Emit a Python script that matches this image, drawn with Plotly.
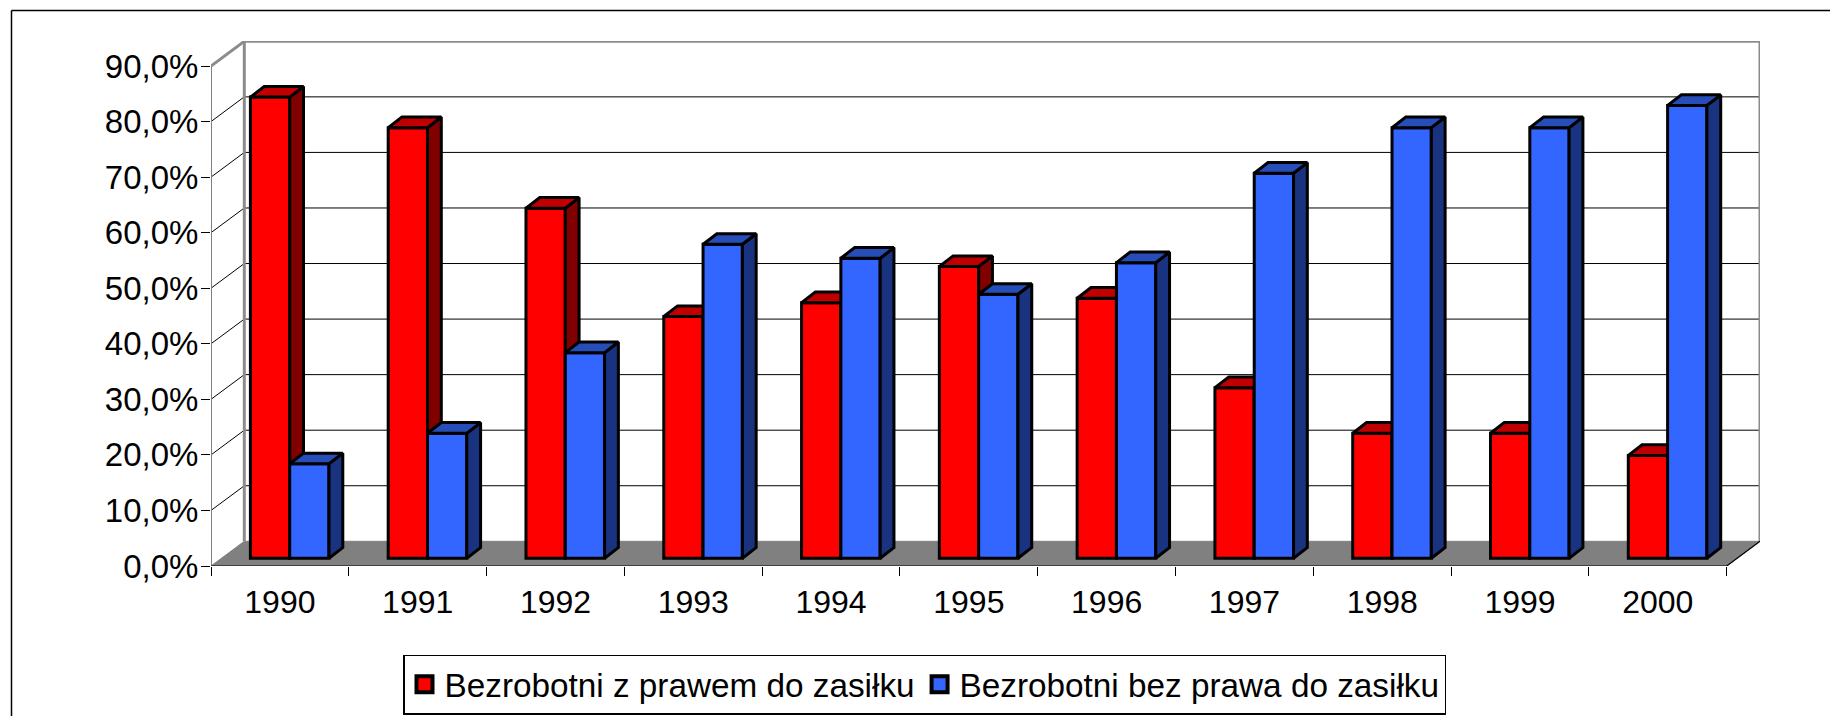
import plotly.graph_objects as go

years = ["1990", "1991", "1992", "1993", "1994", "1995", "1996", "1997", "1998", "1999", "2000"]
with_benefit = [83.0, 77.5, 63.0, 43.5, 46.0, 52.5, 46.8, 30.7, 22.5, 22.5, 18.5]
without_benefit = [17.0, 22.5, 37.0, 56.5, 54.0, 47.5, 53.2, 69.3, 77.5, 77.5, 81.5]
y_ticks = [0, 10, 20, 30, 40, 50, 60, 70, 80, 90]
y_labels = ["0,0%", "10,0%", "20,0%", "30,0%", "40,0%", "50,0%", "60,0%", "70,0%", "80,0%", "90,0%"]
name_with = "Bezrobotni z prawem do zasiłku"
name_without = "Bezrobotni bez prawa do zasiłku"

W, H = 1830, 716
LEFT, RIGHT, TOP, BOTTOM = 211.0, 1760.0, 41.0, 566.0
FRONT_RIGHT = 1726.7
PX_CAT = (FRONT_RIGHT - LEFT) / len(years)
PX_PCT = 500.0 / 90
# depth projection of the box and the bars, expressed in data units
DEPTH_X, DEPTH_Y = 33.3 / PX_CAT, 24.7 / PX_PCT
BAR_X, BAR_BASE = 9.8 / PX_CAT, 7.8 / PX_PCT
SIDE_X, SIDE_Y = 13.8 / PX_CAT, 10.6 / PX_PCT
BAR_W = 39.3 / PX_CAT
x_max = (RIGHT - LEFT) / PX_CAT
y_max = (BOTTOM - TOP) / PX_PCT
n = len(years)
PLOT_W, PLOT_H = RIGHT - LEFT, BOTTOM - TOP

def polys(shapes):
    xs, ys = [], []
    for s in shapes:
        xs += [p[0] for p in s] + [s[0][0], None]
        ys += [p[1] for p in s] + [s[0][1], None]
    return xs, ys

def segs(pairs):
    xs, ys = [], []
    for a, b in pairs:
        xs += [a[0], b[0], None]
        ys += [a[1], b[1], None]
    return xs, ys

fig = go.Figure()

def line_trace(pairs, color, width):
    xs, ys = segs(pairs)
    fig.add_trace(go.Scatter(x=xs, y=ys, mode="lines", line=dict(color=color, width=width),
                             cliponaxis=False, showlegend=False, hoverinfo="skip"))

# floor
fx, fy = polys([[(0, 0), (n, 0), (n + DEPTH_X, DEPTH_Y), (DEPTH_X, DEPTH_Y)]])
fig.add_trace(go.Scatter(x=fx, y=fy, mode="lines", fill="toself", fillcolor="#808080",
                         line=dict(color="#808080", width=1), cliponaxis=False,
                         showlegend=False, hoverinfo="skip"))
# gridlines on the back wall and the left wall
line_trace([((DEPTH_X, t + DEPTH_Y), (n + DEPTH_X, t + DEPTH_Y)) for t in y_ticks[1:-1]], "#000000", 1)
line_trace([((0, t), (DEPTH_X, t + DEPTH_Y)) for t in y_ticks[1:-1]], "#000000", 1)
# wall frame
top = y_ticks[-1]
line_trace([((DEPTH_X, DEPTH_Y), (DEPTH_X, top + DEPTH_Y)),
            ((DEPTH_X, top + DEPTH_Y), (n + DEPTH_X, top + DEPTH_Y)),
            ((n + DEPTH_X, top + DEPTH_Y), (n + DEPTH_X, DEPTH_Y)),
            ((0, top), (DEPTH_X, top + DEPTH_Y))], "#8c8c8c", 3)
line_trace([((0, 0), (0, top))], "#808080", 2)
line_trace([((0, 0), (n, 0)), ((n, 0), (n + DEPTH_X, DEPTH_Y))], "#000000", 1.2)


def add_series(values, name, front, side, lid, sign, ax):
    centers = [i + 0.5 + BAR_X + sign * BAR_W / 2 for i in range(n)]
    fig.add_trace(go.Bar(x=centers, y=values, base=[BAR_BASE] * n, width=BAR_W, name=name,
                         marker=dict(color=front, line=dict(color="#000000", width=3)),
                         cliponaxis=False, showlegend=False, xaxis="x" + ax, yaxis="y" + ax))
    sides, lids = [], []
    for c, v in zip(centers, values):
        l, r, b, t = c - BAR_W / 2, c + BAR_W / 2, BAR_BASE, BAR_BASE + v
        sides.append([(r, b), (r + SIDE_X, b + SIDE_Y), (r + SIDE_X, t + SIDE_Y), (r, t)])
        lids.append([(l, t), (r, t), (r + SIDE_X, t + SIDE_Y), (l + SIDE_X, t + SIDE_Y)])
    for shapes, color in ((sides, side), (lids, lid)):
        xs, ys = polys(shapes)
        fig.add_trace(go.Scatter(x=xs, y=ys, mode="lines", fill="toself", fillcolor=color,
                                 line=dict(color="#000000", width=3), cliponaxis=False,
                                 showlegend=False, hoverinfo="skip", xaxis="x" + ax, yaxis="y" + ax))
    fig.add_trace(go.Scatter(x=[None], y=[None], mode="markers", name=name,
                             marker=dict(symbol="square", size=16, color=front,
                                         line=dict(color="#000000", width=4)),
                             xaxis="x" + ax, yaxis="y" + ax))


add_series(with_benefit, name_with, "#ff0000", "#800000", "#c00000", -1, "2")
add_series(without_benefit, name_without, "#3366ff", "#1a3380", "#264db8", 1, "3")

FONT = "Liberation Sans"
hidden = dict(visible=False, fixedrange=True)
frame_x = (11.5 - LEFT) / PLOT_W
frame_y = (BOTTOM - 10.5) / PLOT_H
fig.update_layout(
    width=W, height=H, autosize=False,
    margin=dict(l=LEFT, r=W - RIGHT, t=TOP, b=H - BOTTOM, pad=0, autoexpand=False),
    paper_bgcolor="#ffffff", plot_bgcolor="#ffffff",
    font=dict(family=FONT, size=32, color="#000000"),
    showlegend=True, barmode="overlay",
    legend=dict(orientation="h", x=(403.0 - LEFT) / PLOT_W, y=(BOTTOM - 654.5) / PLOT_H,
                xanchor="left", yanchor="top", bgcolor="#ffffff", bordercolor="#000000",
                borderwidth=1.5, font=dict(family=FONT, size=33.3, color="#000000"),
                itemclick=False, itemdoubleclick=False),
    xaxis=dict(range=[0, x_max], tickmode="array", tickvals=[i + 0.5 for i in range(n)], ticktext=years,
               ticks="", showgrid=False, zeroline=False, showline=False, fixedrange=True,
               ticklabelstandoff=14, tickfont=dict(family=FONT, size=32, color="#000000"),
               minor=dict(tickmode="array", tickvals=list(range(n + 1)), ticks="outside", ticklen=9,
                          tickwidth=1, tickcolor="#000000", showgrid=False)),
    yaxis=dict(range=[0, y_max], tickmode="array", tickvals=y_ticks, ticktext=y_labels,
               ticks="outside", ticklen=9, tickwidth=1, tickcolor="#000000", showgrid=False,
               zeroline=False, showline=False, fixedrange=True, ticklabelstandoff=-4,
               tickfont=dict(family=FONT, size=33, color="#000000")),
    xaxis2=dict(range=[0, x_max], overlaying="x", **hidden),
    yaxis2=dict(range=[0, y_max], overlaying="y", **hidden),
    xaxis3=dict(range=[0, x_max], overlaying="x", **hidden),
    yaxis3=dict(range=[0, y_max], overlaying="y", **hidden),
    shapes=[dict(type="line", xref="paper", yref="paper", layer="below",
                 x0=frame_x, x1=(W - LEFT) / PLOT_W, y0=frame_y, y1=frame_y,
                 line=dict(color="#000000", width=1.5)),
            dict(type="line", xref="paper", yref="paper", layer="below",
                 x0=frame_x, x1=frame_x, y0=frame_y, y1=(BOTTOM - H) / PLOT_H,
                 line=dict(color="#000000", width=1.5))],
)
fig.write_html("out.html", config={"displayModeBar": False},
               post_script="document.body.style.margin='0';document.documentElement.style.overflow='hidden';")
